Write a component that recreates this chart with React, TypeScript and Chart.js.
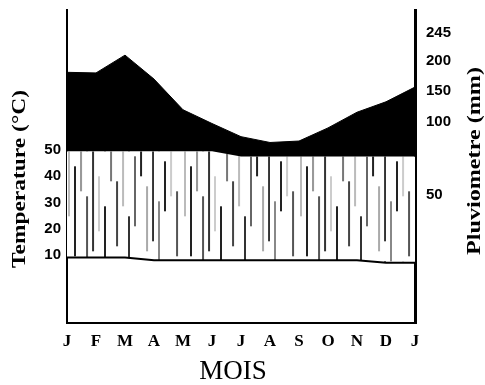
import React, { useEffect, useRef } from 'react';
import { Chart, registerables } from 'chart.js';

Chart.register(...registerables);

// ---- data ----
const months = ['J', 'F', 'M', 'A', 'M', 'J', 'J', 'A', 'S', 'O', 'N', 'D', 'J'];
const precipitation = [181, 180, 209, 170, 120, 99, 90, 86, 87, 96, 116, 133, 157]; // mm
const humidTop = [49.5, 49.5, 49.5, 49.5, 49.5, 49.5, 47.5, 47.5, 47.5, 47.5, 47.5, 47.5, 47.5]; // °C
const temperature = [9, 9, 9, 8, 8, 8, 8, 8, 8, 8, 8, 7, 7]; // °C
const tempTicks = [10, 20, 30, 40, 50];
const precipTicks = [245, 200, 150, 100, 50];
const xTitle = 'MOIS';
const leftTitle = 'Temperature (°C)';
const rightTitle = 'Pluviometre (mm)';

// ---- scale configuration (broken precipitation axis) ----
const TEMP_MIN = -15.9;
const TEMP_MAX = 103.3;
const PRECIP_MIN = -37.6;
const PRECIP_MAX = 282.5;
const PRECIP_BREAK = 100;
const BREAK_FRAC = 0.642;

function precipDecimal(v: number) {
  if (v >= PRECIP_BREAK) {
    return BREAK_FRAC + ((v - PRECIP_BREAK) / (PRECIP_MAX - PRECIP_BREAK)) * (1 - BREAK_FRAC);
  }
  return ((v - PRECIP_MIN) / (PRECIP_BREAK - PRECIP_MIN)) * BREAK_FRAC;
}

// hatch texture (style only)
const hatchStrokes: [number, number, number, string][] = [
  [1, 0, 65, '#bbb'], [7, 15, 105, '#222'], [13, 0, 40, '#999'], [19, 45, 110, '#555'],
  [25, 0, 100, '#333'], [31, 25, 80, '#ccc'], [37, 55, 110, '#222'], [43, 0, 30, '#777'],
  [49, 30, 95, '#444'], [55, 0, 55, '#bbb'], [61, 65, 110, '#333'], [67, 5, 75, '#666'],
  [73, 0, 25, '#222'], [79, 35, 100, '#aaa'], [85, 0, 90, '#333'], [91, 50, 110, '#888'],
  [97, 10, 60, '#222'], [103, 0, 45, '#ccc'], [109, 40, 105, '#555'],
];

let hatchCache: CanvasPattern | null = null;
function hatch(ctx: CanvasRenderingContext2D, x0: number, y0: number) {
  if (hatchCache) return hatchCache;
  const tile = document.createElement('canvas');
  tile.width = 116;
  tile.height = 110;
  const g = tile.getContext('2d')!;
  g.fillStyle = '#fff';
  g.fillRect(0, 0, tile.width, tile.height);
  for (const [x, a, b, col] of hatchStrokes) {
    g.fillStyle = col;
    g.fillRect(x, a, 2, b - a);
  }
  const p = ctx.createPattern(tile, 'repeat')!;
  p.setTransform(new DOMMatrix().translate(x0, y0));
  hatchCache = p;
  return p;
}

const sideTitles = {
  id: 'sideTitles',
  afterDraw(chart: any) {
    const { ctx, chartArea } = chart;
    const draw = (text: string, x: number, y: number, len: number) => {
      ctx.save();
      ctx.translate(x, y);
      ctx.rotate(-Math.PI / 2);
      ctx.font = 'bold 18px "Liberation Serif"';
      const w = ctx.measureText(text).width;
      ctx.scale(len / w, 1);
      ctx.textAlign = 'center';
      ctx.textBaseline = 'middle';
      ctx.fillStyle = '#000';
      ctx.fillText(text, 0, 0);
      ctx.restore();
    };
    draw(leftTitle, chartArea.left - 47, chartArea.top + 169, 178);
    draw(rightTitle, chartArea.right + 60, chartArea.top + 151, 188);
    ctx.save();
    ctx.font = '27px "Liberation Serif"';
    ctx.textAlign = 'center';
    ctx.textBaseline = 'middle';
    ctx.fillStyle = '#000';
    ctx.fillText(xTitle, chartArea.left + 166, chartArea.bottom + 49);
    ctx.restore();
  },
};

function zeroPad(scale: any) {
  scale.paddingTop = 0;
  scale.paddingBottom = 0;
  scale.paddingLeft = 0;
  scale.paddingRight = 0;
}

export default function App() {
  const ref = useRef<HTMLCanvasElement>(null);
  useEffect(() => {
    hatchCache = null;
    const chart = new Chart(ref.current!, {
      type: 'line',
      data: {
        labels: months,
        datasets: [
          {
            label: 'Pluviometrie',
            data: precipitation,
            yAxisID: 'yP',
            borderColor: '#000',
            backgroundColor: '#000',
            borderWidth: 1,
            pointRadius: 0,
            tension: 0,
            fill: 1,
          },
          {
            label: 'Periode humide',
            data: humidTop,
            yAxisID: 'y',
            borderWidth: 0,
            borderColor: 'rgba(0,0,0,0)',
            pointRadius: 0,
            backgroundColor: (c: any) => {
              const ch = c.chart;
              const a = ch.chartArea;
              if (!a || !ch.scales.y) return '#fff';
              return hatch(ch.ctx, a.left, ch.scales.y.getPixelForValue(humidTop[0]));
            },
            fill: 2,
          },
          {
            label: 'Temperature',
            data: temperature,
            yAxisID: 'y',
            borderColor: '#000',
            borderWidth: 2,
            pointRadius: 0,
            fill: false,
            order: -1,
          },
        ],
      },
      options: {
        animation: false,
        responsive: true,
        maintainAspectRatio: false,
        events: [],
        layout: { padding: { top: 10, left: 0, right: 0, bottom: 0 } },
        plugins: { legend: { display: false }, tooltip: { enabled: false } },
        scales: {
          x: {
            type: 'category',
            offset: false,
            grid: { display: false, drawTicks: false },
            border: { display: true, color: '#000', width: 2 },
            ticks: {
              color: '#000',
              font: { family: '"Liberation Serif"', size: 17, weight: 'bold' },
              padding: 8,
              maxRotation: 0,
              autoSkip: false,
            },
            afterFit: (s: any) => {
              s.height = 62;
              zeroPad(s);
            },
          },
          y: {
            type: 'linear',
            position: 'left',
            min: TEMP_MIN,
            max: TEMP_MAX,
            grid: { display: false, drawTicks: false },
            border: { display: true, color: '#000', width: 2 },
            afterBuildTicks: (s: any) => {
              s.ticks = tempTicks.map((value) => ({ value }));
            },
            ticks: {
              color: '#000',
              font: { family: '"Liberation Sans"', size: 15, weight: 'bold' },
              padding: 6,
              callback: (v: any) => String(v),
            },
            afterFit: (s: any) => {
              s.width = 67;
              zeroPad(s);
            },
          },
          yP: {
            type: 'linear',
            position: 'right',
            min: PRECIP_MIN,
            max: PRECIP_MAX,
            grid: { display: false, drawTicks: false },
            border: { display: true, color: '#000', width: 3 },
            afterBuildTicks: (s: any) => {
              s.ticks = precipTicks.map((value) => ({ value }));
              s.getPixelForValue = (v: number) => s.getPixelForDecimal(precipDecimal(v));
            },
            ticks: {
              color: '#000',
              font: { family: '"Liberation Sans"', size: 15, weight: 'bold' },
              padding: 11,
              callback: (v: any) => String(v),
            },
            afterFit: (s: any) => {
              s.width = 70;
              zeroPad(s);
            },
          },
        },
      },
      plugins: [sideTitles],
    } as any);
    return () => chart.destroy();
  }, []);
  return (
    <div style={{ position: 'fixed', left: 0, top: 0, width: 485, height: 385, background: '#fff' }}>
      <canvas ref={ref} />
    </div>
  );
}
